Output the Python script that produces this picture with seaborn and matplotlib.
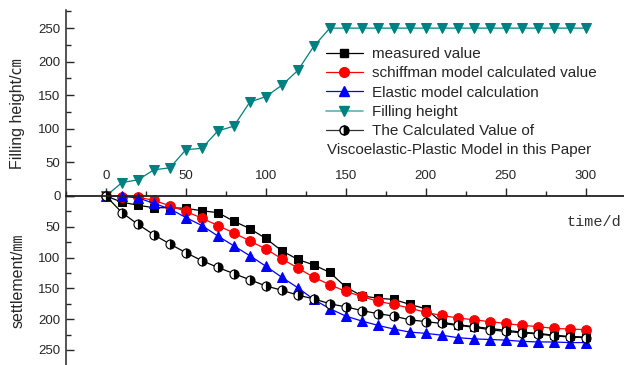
import numpy as np
import pandas as pd
import matplotlib
matplotlib.use("Agg")
import matplotlib.pyplot as plt
from matplotlib.ticker import MultipleLocator
from matplotlib.lines import Line2D
import seaborn as sns

# ---------------- data ----------------
time_d = list(range(0, 301, 10))
filling_height = [0, 20, 24, 39, 42, 69, 71, 97, 104, 140, 148, 165, 187, 223, 250,
                  250, 250, 250, 250, 250, 250, 250, 250, 250, 250, 250, 250, 250, 250, 250, 250]
measured = [0, 10, 15, 19, 19, 20, 24, 27, 41, 53, 69, 89, 103, 112, 124, 148,
            162, 166, 168, 176, 183, 205, 209, 212, 215, 218, 221, 223, 226, 228, 229]
schiffman = [0, 1, 2, 7, 16, 25, 36, 48, 60, 73, 86, 102, 117, 132, 144, 155,
             163, 171, 176, 182, 189, 194, 198, 201, 204, 207, 210, 212, 215, 216, 217]
elastic = [0, 0, 3, 12, 21, 35, 48, 65, 81, 97, 114, 132, 149, 168, 183, 195,
           203, 210, 216, 221, 223, 226, 230, 232, 233, 234, 236, 237, 237, 238, 238]
viscoelastic = [0, 27, 46, 63, 78, 92, 105, 116, 126, 136, 146, 153, 161, 167, 175, 180,
                186, 191, 195, 201, 204, 207, 210, 213, 217, 220, 222, 224, 227, 229, 230]

x_ticks = [0, 50, 100, 150, 200, 250, 300]
y_ticks = [0, 50, 100, 150, 200, 250]

labels = ["measured value", "schiffman model calculated value", "Elastic model calculation",
          "Filling height", "The Calculated Value of"]
label_line2 = "Viscoelastic-Plastic Model in this Paper"

df = pd.DataFrame({"time": time_d, "fill": filling_height, "measured": measured,
                   "schiffman": schiffman, "elastic": elastic, "visco": viscoelastic})

# ---------------- style ----------------
sns.set_style("ticks")
plt.rcParams["font.family"] = ["Liberation Sans", "Noto Sans CJK SC", "DejaVu Sans"]

W, H = 624, 365
fig = plt.figure(figsize=(W / 100, H / 100), dpi=100)

def fx(px):
    return px / W

def fy(py):
    return 1 - py / H

x0 = 66
y_mid = 196
ax1 = fig.add_axes([fx(x0), fy(y_mid), fx(W - x0), (y_mid - 10) / H])
ax2 = fig.add_axes([fx(x0), 0, fx(W - x0), (H - y_mid) / H], sharex=ax1)

teal = "#008080"
common = dict(linewidth=0.9, clip_on=False)

sns.lineplot(data=df, x="time", y="fill", ax=ax1, color=teal, marker="v",
             markersize=7.5, markeredgecolor=teal, markerfacecolor=teal, **common)

sns.lineplot(data=df, x="time", y="measured", ax=ax2, color="black", marker="s",
             markersize=6, markeredgecolor="black", markerfacecolor="black", **common)
sns.lineplot(data=df, x="time", y="schiffman", ax=ax2, color="red", marker="o",
             markersize=7, markeredgecolor="red", markerfacecolor="red", **common)
sns.lineplot(data=df, x="time", y="elastic", ax=ax2, color="blue", marker="^",
             markersize=7.5, markeredgecolor="blue", markerfacecolor="blue", **common)
sns.lineplot(data=df, x="time", y="visco", ax=ax2, color="black", marker="o",
             markersize=6.5, markeredgecolor="black", markerfacecolor="white",
             fillstyle="left", markerfacecoloralt="black", markeredgewidth=0.8, **common)

for ax in (ax1, ax2):
    ax.set_xlim(-25, 324)
    ax.set_xlabel("")
    ax.set_ylabel("")
    for s in ("right", "bottom", "top"):
        ax.spines[s].set_visible(False)
    ax.spines["left"].set_linewidth(1.1)
    ax.yaxis.set_major_locator(MultipleLocator(50))
    ax.yaxis.set_minor_locator(MultipleLocator(25))
    ax.tick_params(axis="y", which="major", direction="in", length=6, width=1.0,
                   labelsize=9.5, pad=4)
    ax.tick_params(axis="y", which="minor", direction="in", length=3.5, width=1.0)

ax1.set_ylim(0, 277)
ax1.set_yticks(y_ticks)
ax1.tick_params(axis="x", which="both", bottom=False, top=False,
                labelbottom=False, labeltop=False)

ax2.set_ylim(274.4, 0)
ax2.set_yticks(y_ticks)
ax2.set_yticklabels([""] + [str(v) for v in y_ticks[1:]])
ax2.spines["top"].set_visible(True)
ax2.spines["top"].set_linewidth(1.3)
ax2.spines["top"].set_color("#222222")
ax2.xaxis.set_ticks_position("top")
ax2.set_xticks(x_ticks)
ax2.set_xticklabels([str(v) for v in x_ticks])
ax2.xaxis.set_minor_locator(MultipleLocator(25))
ax2.tick_params(axis="x", which="major", direction="out", length=6, width=1.0,
                labelsize=9.5, pad=4, top=True, labeltop=True, bottom=False, labelbottom=False)
ax2.tick_params(axis="x", which="minor", direction="out", length=3.5, width=1.0,
                top=True, bottom=False)
ax1.patch.set_alpha(0)
ax2.patch.set_alpha(0)

# axis titles
fig.text(fx(18), fy(114), "Filling height/\u339d", rotation=90, ha="center", va="center",
         fontsize=11.5)
fig.text(fx(18), fy(281), "settlement/\u339c", rotation=90, ha="center", va="center",
         fontsize=11.5)
fig.text(fx(594), fy(222), "time/d", ha="center", va="center", fontsize=11,
         family=["Liberation Mono"], color="#333333")

# legend
handles = [
    Line2D([], [], color="black", marker="s", markersize=6, markerfacecolor="black", lw=0.9),
    Line2D([], [], color="red", marker="o", markersize=7, markerfacecolor="red", lw=0.9),
    Line2D([], [], color="blue", marker="^", markersize=7.5, markerfacecolor="blue", lw=0.9),
    Line2D([], [], color="#5fb3b3", marker="v", markersize=7.5, markerfacecolor=teal,
           markeredgecolor=teal, lw=1.2),
    Line2D([], [], color="#333333", marker="o", markersize=6.5, markerfacecolor="white",
           fillstyle="left", markerfacecoloralt="black", markeredgecolor="black", lw=0.9),
]
leg = fig.legend(handles, labels, loc="upper left", bbox_to_anchor=(fx(326), fy(47)),
                 frameon=False, fontsize=11, handlelength=2.4, handletextpad=0.6,
                 labelspacing=0.35, borderpad=0, borderaxespad=0, numpoints=1)
fig.text(fx(327), fy(150), label_line2, ha="left", va="center", fontsize=11)

fig.savefig("out.png", dpi=100)
